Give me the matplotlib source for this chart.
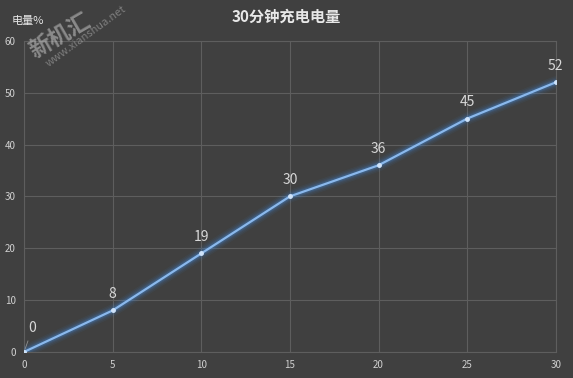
import numpy as np
import matplotlib.pyplot as plt

plt.rcParams['font.family'] = ['Noto Sans CJK SC', 'DejaVu Sans']

minutes = [0, 5, 10, 15, 20, 25, 30]
charge = [0, 8, 19, 30, 36, 45, 52]
xticks = [0, 5, 10, 15, 20, 25, 30]
yticks = [0, 10, 20, 30, 40, 50, 60]

bg = '#404040'
fig = plt.figure(figsize=(5.73, 3.78), dpi=100, facecolor=bg)
ax = fig.add_axes([0.042, 0.069, 0.928, 0.823])
ax.set_facecolor(bg)

# glow
for lw, a in [(9, 0.06), (7, 0.08), (5, 0.12), (3.5, 0.2)]:
    ax.plot(minutes, charge, color='#3f8fe8', lw=lw, alpha=a, solid_capstyle='round', zorder=3)
ax.plot(minutes, charge, color='#8ab8ec', lw=1.6, zorder=4)
ax.plot(minutes, charge, 'o', color='#cfe3fa', ms=2.5, zorder=5)

for x, y in zip(minutes, charge):
    if x == 0:
        ax.annotate(str(y), (x, y), xytext=(6, 14), textcoords='offset points',
                    ha='center', color='#d8d8d8', fontsize=10,
                    arrowprops=dict(arrowstyle='-', color='#909090', lw=0.6))
    else:
        ax.annotate(str(y), (x, y), xytext=(0, 7), textcoords='offset points',
                    ha='center', va='bottom', color='#d8d8d8', fontsize=10)

ax.set_xlim(0, 30)
ax.set_ylim(0, 60)
ax.set_xticks(xticks)
ax.set_yticks(yticks)
ax.grid(True, color='#5e5e5e', lw=0.8)
ax.set_axisbelow(True)
for s in ax.spines.values():
    s.set_color('#5e5e5e')
ax.tick_params(length=0, colors='#d0d0d0', labelsize=7, pad=6)

fig.text(0.5, 0.955, '30分钟充电电量', ha='center', va='center',
         color='#e8e8e8', fontsize=11, fontweight='bold')
fig.text(0.02, 0.945, '电量%', ha='left', va='center', color='#e8e8e8', fontsize=8)

# watermark
fig.text(0.105, 0.905, '新机汇', rotation=30, rotation_mode='anchor', color='#c8c8c8',
         alpha=0.55, fontsize=16, fontweight='bold', ha='center', va='center')
fig.text(0.15, 0.905, 'www.xianshua.net', rotation=36, rotation_mode='anchor',
         color='#b0b0b0', alpha=0.55, fontsize=8, ha='center', va='center')

fig.savefig('out.png', dpi=100, facecolor=bg)
